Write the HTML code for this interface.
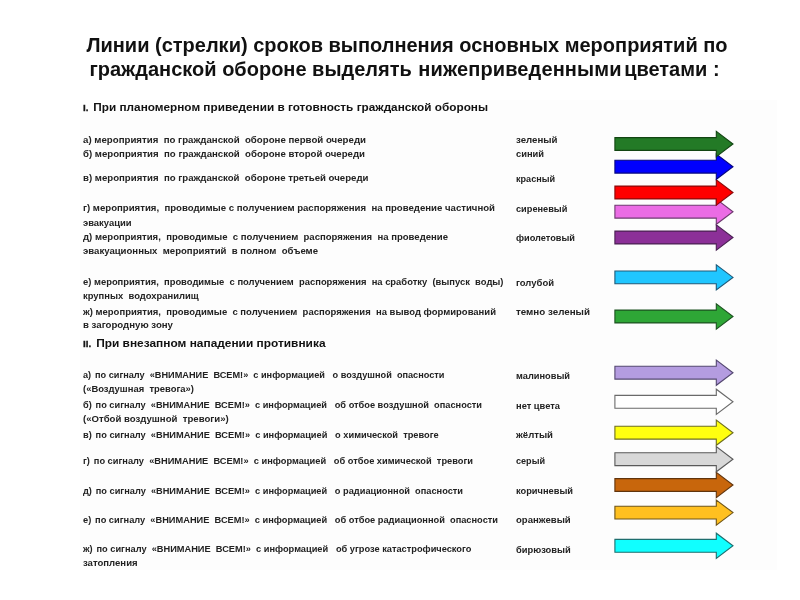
<!DOCTYPE html>
<html lang="ru"><head><meta charset="utf-8"><title>Линии (стрелки) сроков выполнения</title>
<style>
html,body{margin:0;padding:0;background:#fff;}
body{width:800px;height:600px;position:relative;overflow:hidden;font-family:"Liberation Sans",sans-serif;color:#111;}
.pic{position:absolute;left:80px;top:99.5px;width:697px;height:470px;background:#fdfdfd;}
.t{position:absolute;left:0;width:800px;text-align:center;font-weight:bold;font-size:20px;line-height:24px;color:#111;white-space:pre;}
.l{position:absolute;white-space:pre;font-weight:bold;line-height:14px;transform-origin:0 50%;color:#222;}
.h{font-size:11.5px;color:#111;}
.i{font-size:9.6px;}
.rn{font-size:9.5px;margin-right:1.6px;-webkit-text-stroke:0.35px #222;}
.m{margin-right:1.3px;}
svg{position:absolute;left:0;top:0;filter:blur(0.45px);}
.l{filter:blur(0.55px);}
.t{filter:blur(0.45px);}
</style></head><body>
<div class="pic"></div>
<div class="t" id="t1" style="top:33.3px;left:7px">Линии (стрелки) сроков выполнения основных мероприятий по</div>
<div class="t" id="t2" style="top:57.3px;left:4.5px">гражданской обороне выделять <span style="margin-left:1px;letter-spacing:0.12px;margin-right:-3px">нижеприведенными</span> цветами :</div>
<div class="l h" id="l0" style="left:83.0px;top:100.02px;transform:scaleX(1.0241);"><span class="rn">I.</span> При планомерном приведении в готовность гражданской обороны</div>
<div class="l i" id="l1" style="left:83.0px;top:132.97px;transform:scaleX(1.0081);">а) мероприятия  по гражданской  обороне первой очереди</div>
<div class="l i" id="l2" style="left:83.0px;top:146.87px;transform:scaleX(1.0050);">б) мероприятия  по гражданской  обороне второй очереди</div>
<div class="l i" id="l3" style="left:83.0px;top:171.37px;transform:scaleX(1.0040);">в) мероприятия  по гражданской  обороне третьей очереди</div>
<div class="l i" id="l4" style="left:83.0px;top:201.42px;transform:scaleX(1.0010);">г) мероприятия,  проводимые с получением распоряжения  на проведение частичной</div>
<div class="l i" id="l5" style="left:83.0px;top:215.67px;transform:scaleX(0.9811);">эвакуации</div>
<div class="l i" id="l6" style="left:83.0px;top:230.37px;transform:scaleX(0.9962);">д) мероприятия,  проводимые  с получением  распоряжения  на проведение</div>
<div class="l i" id="l7" style="left:83.0px;top:243.87px;transform:scaleX(0.9987);">эвакуационных  мероприятий  в полном  объеме</div>
<div class="l i" id="l8" style="left:83.0px;top:275.42px;transform:scaleX(0.9792);">е) мероприятия,  проводимые  с получением  распоряжения  на сработку  (выпуск  воды)</div>
<div class="l i" id="l9" style="left:83.0px;top:289.37px;transform:scaleX(0.9817);">крупных  водохранилищ</div>
<div class="l i" id="l10" style="left:83.0px;top:304.67px;transform:scaleX(0.9889);">ж) мероприятия,  проводимые  с получением  распоряжения  на вывод формирований</div>
<div class="l i" id="l11" style="left:83.0px;top:318.17px;transform:scaleX(1.0059);">в загородную зону</div>
<div class="l h" id="l12" style="left:83.0px;top:336.27px;transform:scaleX(1.0345);"><span class="rn">II.</span> При внезапном нападении противника</div>
<div class="l i" id="l13" style="left:83.0px;top:367.97px;transform:scaleX(0.9563);"><span class="m">а)</span> по сигналу  «ВНИМАНИЕ  ВСЕМ!»  с информацией   о воздушной  опасности</div>
<div class="l i" id="l14" style="left:83.0px;top:381.92px;transform:scaleX(0.9827);">(«Воздушная  тревога»)</div>
<div class="l i" id="l15" style="left:83.0px;top:397.97px;transform:scaleX(0.9623);"><span class="m">б)</span> по сигналу  «ВНИМАНИЕ  ВСЕМ!»  с информацией   об отбое воздушной  опасности</div>
<div class="l i" id="l16" style="left:83.0px;top:411.92px;transform:scaleX(1.0001);">(«Отбой воздушной  тревоги»)</div>
<div class="l i" id="l17" style="left:83.0px;top:427.67px;transform:scaleX(0.9638);"><span class="m">в)</span> по сигналу  «ВНИМАНИЕ  ВСЕМ!»  с информацией   о химической  тревоге</div>
<div class="l i" id="l18" style="left:83.0px;top:453.87px;transform:scaleX(0.9659);"><span class="m">г)</span> по сигналу  «ВНИМАНИЕ  ВСЕМ!»  с информацией   об отбое химической  тревоги</div>
<div class="l i" id="l19" style="left:83.0px;top:483.97px;transform:scaleX(0.9622);"><span class="m">д)</span> по сигналу  «ВНИМАНИЕ  ВСЕМ!»  с информацией   о радиационной  опасности</div>
<div class="l i" id="l20" style="left:83.0px;top:512.57px;transform:scaleX(0.9647);"><span class="m">е)</span> по сигналу  «ВНИМАНИЕ  ВСЕМ!»  с информацией   об отбое радиационной  опасности</div>
<div class="l i" id="l21" style="left:83.0px;top:542.12px;transform:scaleX(0.9635);"><span class="m">ж)</span> по сигналу  «ВНИМАНИЕ  ВСЕМ!»  с информацией   об угрозе катастрофического</div>
<div class="l i" id="l22" style="left:83.0px;top:555.92px;transform:scaleX(0.9961);">затопления</div>
<div class="l i" id="l23" style="left:516.0px;top:133.17px;transform:scaleX(1.0080);">зеленый</div>
<div class="l i" id="l24" style="left:516.0px;top:147.07px;transform:scaleX(0.9713);">синий</div>
<div class="l i" id="l25" style="left:516.0px;top:171.57px;transform:scaleX(0.9462);">красный</div>
<div class="l i" id="l26" style="left:516.0px;top:201.67px;transform:scaleX(0.9596);">сиреневый</div>
<div class="l i" id="l27" style="left:516.0px;top:230.67px;transform:scaleX(0.9591);">фиолетовый</div>
<div class="l i" id="l28" style="left:516.0px;top:275.67px;transform:scaleX(0.9874);">голубой</div>
<div class="l i" id="l29" style="left:516.0px;top:304.97px;transform:scaleX(1.0207);">темно зеленый</div>
<div class="l i" id="l30" style="left:516.0px;top:368.67px;transform:scaleX(0.9651);">малиновый</div>
<div class="l i" id="l31" style="left:516.0px;top:398.67px;transform:scaleX(0.9717);">нет цвета</div>
<div class="l i" id="l32" style="left:516.0px;top:428.17px;transform:scaleX(0.9992);">жёлтый</div>
<div class="l i" id="l33" style="left:516.0px;top:454.17px;transform:scaleX(0.9469);">серый</div>
<div class="l i" id="l34" style="left:516.0px;top:483.97px;transform:scaleX(0.9664);">коричневый</div>
<div class="l i" id="l35" style="left:516.0px;top:512.97px;transform:scaleX(0.9971);">оранжевый</div>
<div class="l i" id="l36" style="left:516.0px;top:542.67px;transform:scaleX(0.9722);">бирюзовый</div>
<svg width="800" height="600" viewBox="0 0 800 600">
<polygon points="614.9,539.4 716.3,539.4 716.3,533.2 733.0,545.8 716.3,558.4 716.3,552.2 614.9,552.2" fill="#10ffff" stroke="#1e6e6e" stroke-width="1.1" stroke-linejoin="miter"/>
<polygon points="614.9,506.2 716.3,506.2 716.3,500.0 733.0,512.6 716.3,525.2 716.3,519.0 614.9,519.0" fill="#ffc020" stroke="#6e5418" stroke-width="1.1" stroke-linejoin="miter"/>
<polygon points="614.9,478.6 716.3,478.6 716.3,472.4 733.0,485.0 716.3,497.6 716.3,491.4 614.9,491.4" fill="#c8660c" stroke="#60340c" stroke-width="1.1" stroke-linejoin="miter"/>
<polygon points="614.9,452.8 716.3,452.8 716.3,446.6 733.0,459.2 716.3,471.8 716.3,465.6 614.9,465.6" fill="#d8d8d8" stroke="#5a5a5a" stroke-width="1.1" stroke-linejoin="miter"/>
<polygon points="614.9,426.3 716.3,426.3 716.3,420.1 733.0,432.7 716.3,445.3 716.3,439.1 614.9,439.1" fill="#ffff10" stroke="#6e6e20" stroke-width="1.1" stroke-linejoin="miter"/>
<polygon points="614.9,395.4 716.3,395.4 716.3,389.2 733.0,401.8 716.3,414.4 716.3,408.2 614.9,408.2" fill="#ffffff" stroke="#6a6a6a" stroke-width="1.1" stroke-linejoin="miter"/>
<polygon points="614.9,366.3 716.3,366.3 716.3,360.1 733.0,372.7 716.3,385.3 716.3,379.1 614.9,379.1" fill="#b49ce0" stroke="#544870" stroke-width="1.1" stroke-linejoin="miter"/>
<polygon points="614.9,310.1 716.3,310.1 716.3,303.9 733.0,316.5 716.3,329.1 716.3,322.9 614.9,322.9" fill="#2ea636" stroke="#1c5220" stroke-width="1.1" stroke-linejoin="miter"/>
<polygon points="614.9,271.0 716.3,271.0 716.3,264.8 733.0,277.4 716.3,290.0 716.3,283.8 614.9,283.8" fill="#20c6ff" stroke="#205a78" stroke-width="1.1" stroke-linejoin="miter"/>
<polygon points="614.9,231.1 716.3,231.1 716.3,224.9 733.0,237.5 716.3,250.1 716.3,243.9 614.9,243.9" fill="#8c3098" stroke="#4a2052" stroke-width="1.1" stroke-linejoin="miter"/>
<polygon points="614.9,205.3 716.3,205.3 716.3,199.1 733.0,211.7 716.3,224.3 716.3,218.1 614.9,218.1" fill="#eb6ce5" stroke="#6e3a70" stroke-width="1.1" stroke-linejoin="miter"/>
<polygon points="614.9,186.1 716.3,186.1 716.3,179.9 733.0,192.5 716.3,205.1 716.3,198.9 614.9,198.9" fill="#ff0000" stroke="#8a0808" stroke-width="1.1" stroke-linejoin="miter"/>
<polygon points="614.9,160.3 716.3,160.3 716.3,154.1 733.0,166.7 716.3,179.3 716.3,173.1 614.9,173.1" fill="#0000fe" stroke="#060680" stroke-width="1.1" stroke-linejoin="miter"/>
<polygon points="614.9,137.6 716.3,137.6 716.3,131.4 733.0,144.0 716.3,156.6 716.3,150.4 614.9,150.4" fill="#237a26" stroke="#124512" stroke-width="1.1" stroke-linejoin="miter"/>
</svg>
</body></html>
